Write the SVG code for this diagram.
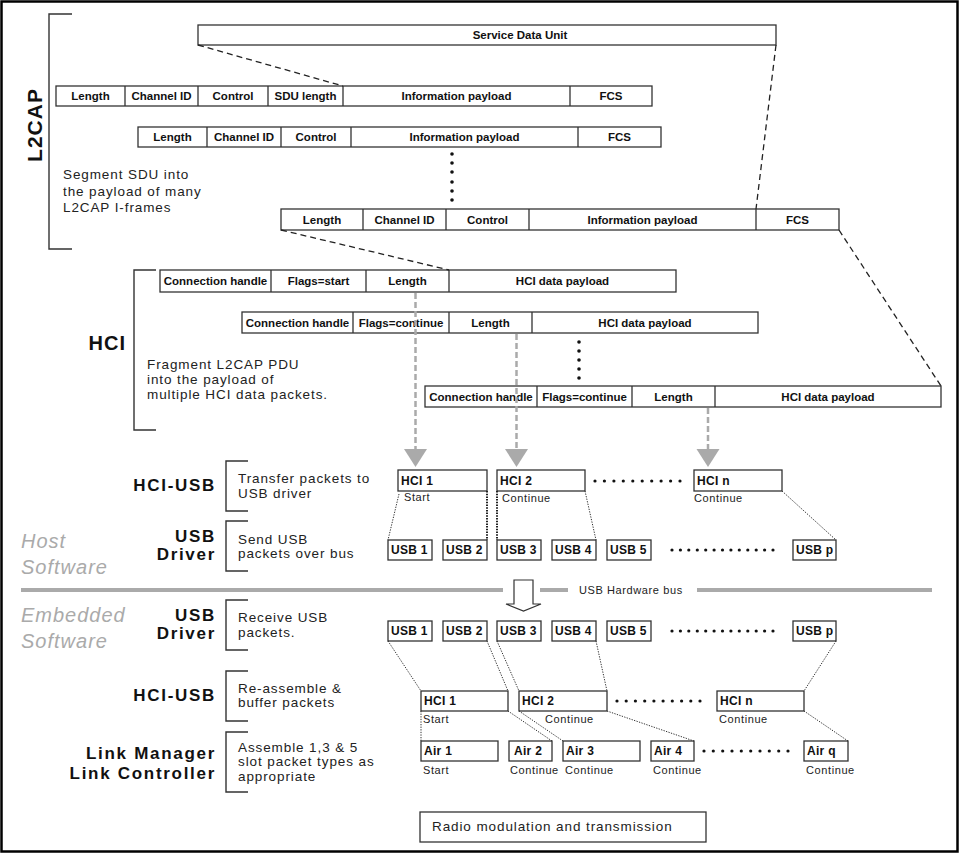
<svg xmlns="http://www.w3.org/2000/svg" width="961" height="854" viewBox="0 0 961 854">
<style>
.bx{fill:#fff;stroke:#333;stroke-width:1.3}
.dv{stroke:#333;stroke-width:1.3}
.br{fill:none;stroke:#333;stroke-width:1.4}
.fl{font-family:"Liberation Sans",Arial,sans-serif;font-weight:bold;font-size:11.5px;fill:#111;text-anchor:middle}
.pk{font-family:"Liberation Sans",Arial,sans-serif;font-weight:bold;font-size:12px;fill:#111;letter-spacing:0.3px}
.sm{font-family:"Liberation Sans",Arial,sans-serif;font-size:11px;fill:#222;letter-spacing:0.6px}
.ds{font-family:"Liberation Sans",Arial,sans-serif;font-size:13.5px;fill:#222;letter-spacing:0.9px}
.big{font-family:"Liberation Sans",Arial,sans-serif;font-weight:bold;font-size:17px;fill:#111;letter-spacing:1.7px;text-anchor:end}
.sw{font-family:"Liberation Sans",Arial,sans-serif;font-style:italic;font-size:20px;fill:#aaa;letter-spacing:1px}
.dash{fill:none;stroke:#222;stroke-width:1.3;stroke-dasharray:6 4}
.dot{fill:none;stroke:#333;stroke-width:1;stroke-dasharray:1.3 1.3}
.dotb{fill:none;stroke:#222;stroke-width:2;stroke-dasharray:1.5 1.2}
.gd{fill:none;stroke:#aaa;stroke-width:2.5;stroke-dasharray:6 3}
.gt{fill:#aaa}
.d{fill:#111}
</style>
<rect x="1.5" y="1.5" width="956" height="850" fill="#fff" stroke="#000" stroke-width="2.5"/>

<g id="l2cap-label">
<path class="br" d="M72 14 H49 V249 H72"/>
<text transform="translate(42,125) rotate(-90)" font-family="Liberation Sans,Arial,sans-serif" font-weight="bold" font-size="21" fill="#111" text-anchor="middle" letter-spacing="1">L2CAP</text>
<text class="ds" x="63" y="179">Segment SDU into</text>
<text class="ds" x="63" y="196">the payload of many</text>
<text class="ds" x="63" y="212">L2CAP I-frames</text>
</g>

<g id="sdu">
<rect class="bx" x="198" y="25" width="578" height="20"/>
<text class="fl" x="520" y="39">Service Data Unit</text>
</g>

<g id="l2cap-frame1">
<rect class="bx" x="56" y="86" width="596" height="20"/>
<path class="dv" d="M125 86V106M198 86V106M268 86V106M343 86V106M570 86V106"/>
<text class="fl" x="90.5" y="100">Length</text>
<text class="fl" x="161.5" y="100">Channel ID</text>
<text class="fl" x="233" y="100">Control</text>
<text class="fl" x="305.5" y="100">SDU length</text>
<text class="fl" x="456.5" y="100">Information payload</text>
<text class="fl" x="611" y="100">FCS</text>
</g>

<g id="l2cap-frame2">
<rect class="bx" x="138" y="127" width="523" height="20"/>
<path class="dv" d="M207 127V147M281 127V147M351 127V147M578 127V147"/>
<text class="fl" x="172.5" y="141">Length</text>
<text class="fl" x="244" y="141">Channel ID</text>
<text class="fl" x="316" y="141">Control</text>
<text class="fl" x="464.5" y="141">Information payload</text>
<text class="fl" x="619.5" y="141">FCS</text>
</g>

<g id="l2cap-dots">
<circle class="d" cx="452" cy="154" r="1.8"/><circle class="d" cx="452" cy="163" r="1.8"/><circle class="d" cx="452" cy="172" r="1.8"/><circle class="d" cx="452" cy="182" r="1.8"/><circle class="d" cx="452" cy="191" r="1.8"/><circle class="d" cx="452" cy="200" r="1.8"/>
</g>

<g id="l2cap-frame3">
<rect class="bx" x="281" y="209" width="558" height="21"/>
<path class="dv" d="M363 209V230M446 209V230M529 209V230M756 209V230"/>
<text class="fl" x="322" y="224">Length</text>
<text class="fl" x="404.5" y="224">Channel ID</text>
<text class="fl" x="487.5" y="224">Control</text>
<text class="fl" x="642.5" y="224">Information payload</text>
<text class="fl" x="797.5" y="224">FCS</text>
</g>

<g id="hci-label">
<path class="br" d="M156 270 H134 V430 H156"/>
<text x="126" y="350" font-family="Liberation Sans,Arial,sans-serif" font-weight="bold" font-size="20" fill="#111" text-anchor="end" letter-spacing="1">HCI</text>
<text class="ds" x="147" y="369">Fragment L2CAP PDU</text>
<text class="ds" x="147" y="384">into the payload of</text>
<text class="ds" x="147" y="399">multiple HCI data packets.</text>
</g>

<g id="hci-frame1">
<rect class="bx" x="160" y="270" width="516" height="22"/>
<path class="dv" d="M271 270V292M366 270V292M449 270V292"/>
<text class="fl" x="215.5" y="285">Connection handle</text>
<text class="fl" x="318.5" y="285">Flags=start</text>
<text class="fl" x="407.5" y="285">Length</text>
<text class="fl" x="562.5" y="285">HCI data payload</text>
</g>

<g id="hci-frame2">
<rect class="bx" x="242" y="312" width="516" height="21"/>
<path class="dv" d="M353 312V333M449 312V333M532 312V333"/>
<text class="fl" x="297.5" y="327">Connection handle</text>
<text class="fl" x="401" y="327">Flags=continue</text>
<text class="fl" x="490.5" y="327">Length</text>
<text class="fl" x="645" y="327">HCI data payload</text>
</g>

<g id="hci-dots">
<circle class="d" cx="579" cy="342" r="1.8"/><circle class="d" cx="579" cy="351" r="1.8"/><circle class="d" cx="579" cy="360" r="1.8"/><circle class="d" cx="579" cy="369" r="1.8"/><circle class="d" cx="579" cy="378" r="1.8"/>
</g>

<g id="hci-frame3">
<rect class="bx" x="425" y="386" width="516" height="21"/>
<path class="dv" d="M537 386V407M632 386V407M715 386V407"/>
<text class="fl" x="481" y="401">Connection handle</text>
<text class="fl" x="584.5" y="401">Flags=continue</text>
<text class="fl" x="673.5" y="401">Length</text>
<text class="fl" x="828" y="401">HCI data payload</text>
</g>

<g id="host-hciusb-label">
<text class="big" x="216" y="491">HCI-USB</text>
<path class="br" d="M248 461 H226 V511 H248"/>
<text class="ds" x="238" y="483">Transfer packets to</text>
<text class="ds" x="238" y="498">USB driver</text>
</g>

<g id="host-usbdriver-label">
<text class="big" x="216" y="542">USB</text>
<text class="big" x="216" y="560">Driver</text>
<path class="br" d="M248 521 H226 V571 H248"/>
<text class="ds" x="238" y="544">Send USB</text>
<text class="ds" x="238" y="558">packets over bus</text>
</g>

<g id="host-software">
<text class="sw" x="21" y="548">Host</text>
<text class="sw" x="21" y="574">Software</text>
</g>

<g id="bus">
<path d="M21 590H503M540 590H568M697 590H932" stroke="#aaa" stroke-width="4" fill="none"/>
<text class="sm" x="579" y="594" letter-spacing="0.7">USB Hardware bus</text>
<path d="M514 580H533V604H541L523.5 611L506 604H514Z" fill="#fff" stroke="#333" stroke-width="1.2"/>
</g>

<g id="embedded-software">
<text class="sw" x="21" y="622">Embedded</text>
<text class="sw" x="21" y="648">Software</text>
</g>

<g id="emb-usbdriver-label">
<text class="big" x="216" y="621">USB</text>
<text class="big" x="216" y="639">Driver</text>
<path class="br" d="M248 600 H226 V650 H248"/>
<text class="ds" x="238" y="622">Receive USB</text>
<text class="ds" x="238" y="637">packets.</text>
</g>

<g id="emb-hciusb-label">
<text class="big" x="216" y="701">HCI-USB</text>
<path class="br" d="M248 671 H226 V721 H248"/>
<text class="ds" x="238" y="693">Re-assemble &amp;</text>
<text class="ds" x="238" y="707">buffer packets</text>
</g>

<g id="lmlc-label">
<text class="big" x="216" y="759">Link Manager</text>
<text class="big" x="216" y="779">Link Controller</text>
<path class="br" d="M248 732 H226 V792 H248"/>
<text class="ds" x="238" y="752">Assemble 1,3 &amp; 5</text>
<text class="ds" x="238" y="766">slot packet types as</text>
<text class="ds" x="238" y="781">appropriate</text>
</g>

<g id="host-hci1"><rect class="bx" x="398" y="470" width="89" height="21"/><text class="pk" x="401" y="485">HCI 1</text><text class="sm" x="404" y="501">Start</text></g>
<g id="host-hci2"><rect class="bx" x="497" y="470" width="88" height="21"/><text class="pk" x="500" y="485">HCI 2</text><text class="sm" x="502" y="502">Continue</text></g>
<g id="host-hci-dots">
<circle class="d" cx="595" cy="481" r="1.6"/><circle class="d" cx="604.4" cy="481" r="1.6"/><circle class="d" cx="613.9" cy="481" r="1.6"/><circle class="d" cx="623.3" cy="481" r="1.6"/><circle class="d" cx="632.8" cy="481" r="1.6"/><circle class="d" cx="642.2" cy="481" r="1.6"/><circle class="d" cx="651.7" cy="481" r="1.6"/><circle class="d" cx="661.1" cy="481" r="1.6"/><circle class="d" cx="670.6" cy="481" r="1.6"/><circle class="d" cx="680" cy="481" r="1.6"/>
</g>
<g id="host-hcin"><rect class="bx" x="694" y="470" width="88" height="21"/><text class="pk" x="697" y="485">HCI n</text><text class="sm" x="694" y="502">Continue</text></g>

<g id="host-usb1"><rect class="bx" x="388" y="540" width="44" height="20"/><text class="pk" x="391" y="554">USB 1</text></g>
<g id="host-usb2"><rect class="bx" x="443" y="540" width="44" height="20"/><text class="pk" x="446" y="554">USB 2</text></g>
<g id="host-usb3"><rect class="bx" x="497" y="540" width="44" height="20"/><text class="pk" x="500" y="554">USB 3</text></g>
<g id="host-usb4"><rect class="bx" x="552" y="540" width="44" height="20"/><text class="pk" x="555" y="554">USB 4</text></g>
<g id="host-usb5"><rect class="bx" x="607" y="540" width="44" height="20"/><text class="pk" x="610" y="554">USB 5</text></g>
<g id="host-usb-dots">
<circle class="d" cx="672" cy="550" r="1.6"/><circle class="d" cx="680.4" cy="550" r="1.6"/><circle class="d" cx="688.8" cy="550" r="1.6"/><circle class="d" cx="697.3" cy="550" r="1.6"/><circle class="d" cx="705.7" cy="550" r="1.6"/><circle class="d" cx="714.1" cy="550" r="1.6"/><circle class="d" cx="722.5" cy="550" r="1.6"/><circle class="d" cx="730.9" cy="550" r="1.6"/><circle class="d" cx="739.3" cy="550" r="1.6"/><circle class="d" cx="747.8" cy="550" r="1.6"/><circle class="d" cx="756.2" cy="550" r="1.6"/><circle class="d" cx="764.6" cy="550" r="1.6"/><circle class="d" cx="773" cy="550" r="1.6"/>
</g>
<g id="host-usbp"><rect class="bx" x="793" y="540" width="43" height="20"/><text class="pk" x="796" y="554">USB p</text></g>

<g id="emb-usb1"><rect class="bx" x="388" y="621" width="44" height="20"/><text class="pk" x="391" y="635">USB 1</text></g>
<g id="emb-usb2"><rect class="bx" x="443" y="621" width="44" height="20"/><text class="pk" x="446" y="635">USB 2</text></g>
<g id="emb-usb3"><rect class="bx" x="497" y="621" width="44" height="20"/><text class="pk" x="500" y="635">USB 3</text></g>
<g id="emb-usb4"><rect class="bx" x="552" y="621" width="44" height="20"/><text class="pk" x="555" y="635">USB 4</text></g>
<g id="emb-usb5"><rect class="bx" x="607" y="621" width="44" height="20"/><text class="pk" x="610" y="635">USB 5</text></g>
<g id="emb-usb-dots">
<circle class="d" cx="672" cy="631" r="1.6"/><circle class="d" cx="680.4" cy="631" r="1.6"/><circle class="d" cx="688.8" cy="631" r="1.6"/><circle class="d" cx="697.3" cy="631" r="1.6"/><circle class="d" cx="705.7" cy="631" r="1.6"/><circle class="d" cx="714.1" cy="631" r="1.6"/><circle class="d" cx="722.5" cy="631" r="1.6"/><circle class="d" cx="730.9" cy="631" r="1.6"/><circle class="d" cx="739.3" cy="631" r="1.6"/><circle class="d" cx="747.8" cy="631" r="1.6"/><circle class="d" cx="756.2" cy="631" r="1.6"/><circle class="d" cx="764.6" cy="631" r="1.6"/><circle class="d" cx="773" cy="631" r="1.6"/>
</g>
<g id="emb-usbp"><rect class="bx" x="793" y="621" width="43" height="20"/><text class="pk" x="796" y="635">USB p</text></g>

<g id="emb-hci1"><rect class="bx" x="421" y="691" width="87" height="20"/><text class="pk" x="424" y="705">HCI 1</text><text class="sm" x="423" y="723">Start</text></g>
<g id="emb-hci2"><rect class="bx" x="519" y="691" width="88" height="20"/><text class="pk" x="522" y="705">HCI 2</text><text class="sm" x="545" y="723">Continue</text></g>
<g id="emb-hci-dots">
<circle class="d" cx="617" cy="701" r="1.6"/><circle class="d" cx="626.2" cy="701" r="1.6"/><circle class="d" cx="635.4" cy="701" r="1.6"/><circle class="d" cx="644.7" cy="701" r="1.6"/><circle class="d" cx="653.9" cy="701" r="1.6"/><circle class="d" cx="663.1" cy="701" r="1.6"/><circle class="d" cx="672.3" cy="701" r="1.6"/><circle class="d" cx="681.6" cy="701" r="1.6"/><circle class="d" cx="690.8" cy="701" r="1.6"/><circle class="d" cx="700" cy="701" r="1.6"/>
</g>
<g id="emb-hcin"><rect class="bx" x="717" y="691" width="87" height="20"/><text class="pk" x="720" y="705">HCI n</text><text class="sm" x="719" y="723">Continue</text></g>

<g id="air1"><rect class="bx" x="421" y="741" width="77" height="20"/><text class="pk" x="424" y="755">Air 1</text><text class="sm" x="423" y="774">Start</text></g>
<g id="air2"><rect class="bx" x="509" y="741" width="43" height="20"/><text class="pk" x="514" y="755">Air 2</text><text class="sm" x="510" y="774">Continue</text></g>
<g id="air3"><rect class="bx" x="563" y="741" width="77" height="20"/><text class="pk" x="566" y="755">Air 3</text><text class="sm" x="565" y="774">Continue</text></g>
<g id="air4"><rect class="bx" x="651" y="741" width="43" height="20"/><text class="pk" x="654" y="755">Air 4</text><text class="sm" x="653" y="774">Continue</text></g>
<g id="air-dots">
<circle class="d" cx="704" cy="751" r="1.6"/><circle class="d" cx="713.3" cy="751" r="1.6"/><circle class="d" cx="722.7" cy="751" r="1.6"/><circle class="d" cx="732" cy="751" r="1.6"/><circle class="d" cx="741.3" cy="751" r="1.6"/><circle class="d" cx="750.7" cy="751" r="1.6"/><circle class="d" cx="760" cy="751" r="1.6"/><circle class="d" cx="769.3" cy="751" r="1.6"/><circle class="d" cx="778.7" cy="751" r="1.6"/><circle class="d" cx="788" cy="751" r="1.6"/>
</g>
<g id="airq"><rect class="bx" x="804" y="741" width="44" height="20"/><text class="pk" x="807" y="755">Air q</text><text class="sm" x="806" y="774">Continue</text></g>

<g id="radio"><rect class="bx" x="420" y="812" width="286" height="30"/><text class="ds" x="432" y="831" letter-spacing="0.7">Radio modulation and transmission</text></g>

<g id="connectors">
<path class="dash" d="M198 45L343 86"/>
<path class="dash" d="M776 45L756 209"/>
<path class="dash" d="M281 230L449 270"/>
<path class="dash" d="M839 230L941 386"/>

<path class="gd" d="M415.5 293V449"/>
<polygon class="gt" points="404,449 427,449 415.5,467"/>
<path class="gd" d="M516.5 334V449"/>
<polygon class="gt" points="505,449 528,449 516.5,467"/>
<path class="gd" d="M708 408V449"/>
<polygon class="gt" points="696.5,449 719.5,449 708,467"/>

<path class="dot" d="M399 494L388 540"/>
<path class="dotb" d="M487 491V540"/>
<path class="dotb" d="M497 491V540"/>
<path class="dot" d="M585 491L596 540"/>
<path class="dot" d="M782 491L836 540"/>

<path class="dot" d="M388 641L421 691"/>
<path class="dot" d="M487 641L508 691"/>
<path class="dot" d="M497 641L519 691"/>
<path class="dot" d="M596 641L607 691"/>
<path class="dot" d="M836 641L804 691"/>

<path class="dot" d="M421 711V741"/>
<path class="dot" d="M508 711L552 741"/>
<path class="dot" d="M519 711L563 741"/>
<path class="dot" d="M607 711L694 741"/>
<path class="dot" d="M804 711L848 741"/>
</g>
</svg>
